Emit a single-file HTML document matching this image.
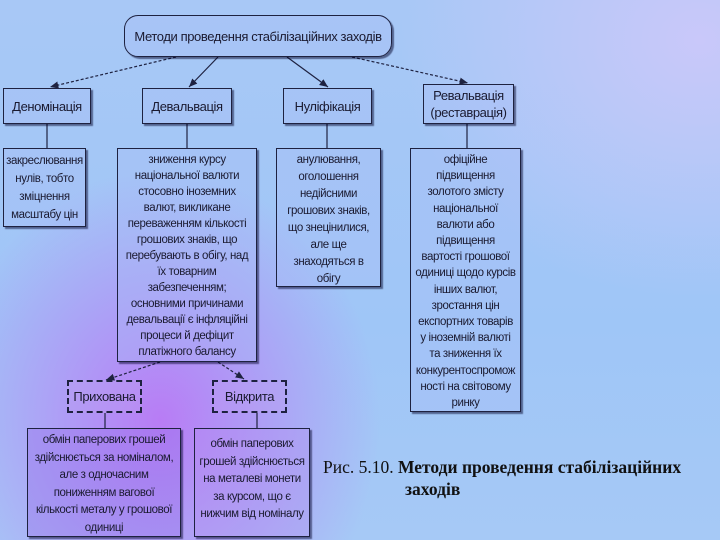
<!DOCTYPE html>
<html><head><meta charset="utf-8"><style>
body{margin:0;width:720px;height:540px;overflow:hidden;position:relative;font-family:"Liberation Sans",sans-serif;
background:
radial-gradient(ellipse 220px 250px at 160px 420px,rgba(185,120,245,0.95),rgba(185,120,245,0) 100%),
radial-gradient(ellipse 300px 260px at 700px 40px,rgba(205,200,250,0.9),rgba(205,200,250,0) 100%),
linear-gradient(180deg,#a8c8f6 0%,#9fc6f7 60%,#a6c9f6 100%);}
.b{position:absolute;box-sizing:border-box;border:1.5px solid #1e2240;color:#1a1a30;text-align:center;font-size:11.5px;letter-spacing:-0.4px;box-shadow:2px 2px 1px rgba(0,0,40,0.5);background:rgba(170,190,245,0.35);white-space:nowrap}
.h{font-size:13px;display:flex;align-items:center;justify-content:center;line-height:17px}
.d{border:2px dashed #1e2240;box-shadow:none;background:rgba(190,160,240,0.35)}
.cap{position:absolute;left:323px;top:456px;font-family:"Liberation Serif",serif;font-size:17.5px;color:#111;line-height:22px;white-space:nowrap}
</style></head><body>
<svg width="720" height="540" style="position:absolute;left:0;top:0">
<defs><marker id="a" markerWidth="8" markerHeight="8" refX="7" refY="4" orient="auto"><path d="M0,1 L7,4 L0,7Z" fill="#1e2240"/></marker></defs>
<g stroke="#1e2240" stroke-width="1.2" fill="none">
<line x1="176" y1="57" x2="50" y2="87" stroke-dasharray="3,2" marker-end="url(#a)"/>
<line x1="218" y1="57" x2="189" y2="87" marker-end="url(#a)"/>
<line x1="287" y1="57" x2="328" y2="87" marker-end="url(#a)"/>
<line x1="352" y1="57" x2="468" y2="83" stroke-dasharray="3,2" marker-end="url(#a)"/>
<line x1="47" y1="124" x2="47" y2="148"/>
<line x1="187" y1="124" x2="187" y2="148"/>
<line x1="327" y1="124" x2="327" y2="148"/>
<line x1="467" y1="124" x2="467" y2="148"/>
<line x1="160" y1="362" x2="106" y2="380" stroke-dasharray="3,2" marker-end="url(#a)"/>
<line x1="218" y1="362" x2="244" y2="379" stroke-dasharray="3,2" marker-end="url(#a)"/>
<line x1="105" y1="413" x2="105" y2="428"/>
<line x1="257" y1="413" x2="257" y2="428"/>
</g></svg>
<div class="b h" style="left:124px;top:15px;width:268px;height:42px;border-radius:14px;font-size:13px">Методи проведення стабілізаційних заходів</div>
<div class="b h" style="left:3px;top:88px;width:88px;height:36px">Деномінація</div>
<div class="b h" style="left:142px;top:88px;width:90px;height:36px">Девальвація</div>
<div class="b h" style="left:283px;top:88px;width:89px;height:36px">Нуліфікація</div>
<div class="b h" style="left:423px;top:84px;width:91px;height:40px">Ревальвація<br>(реставрація)</div>
<div class="b" style="left:3px;top:148px;width:83px;height:79px;line-height:18px;padding-top:3px">закреслювання<br>нулів, тобто<br>зміцнення<br>масштабу цін</div>
<div class="b" style="left:117px;top:148px;width:140px;height:214px;line-height:16px;padding:3px 0 0">зниження курсу<br>національної валюти<br>стосовно іноземних<br>валют, викликане<br>переваженням кількості<br>грошових знаків, що<br>перебувають в обігу, над<br>їх товарним<br>забезпеченням;<br>основними причинами<br>девальвації є інфляційні<br>процеси й дефіцит<br>платіжного балансу</div>
<div class="b" style="left:276px;top:148px;width:105px;height:139px;line-height:17px;padding:3px 0 0">анулювання,<br>оголошення<br>недійсними<br>грошових знаків,<br>що знецінилися,<br>але ще<br>знаходяться в<br>обігу</div>
<div class="b" style="left:410px;top:148px;width:111px;height:264px;line-height:16.2px;padding:3px 0 0">офіційне<br>підвищення<br>золотого змісту<br>національної<br>валюти або<br>підвищення<br>вартості грошової<br>одиниці щодо курсів<br>інших валют,<br>зростання цін<br>експортних товарів<br>у іноземній валюті<br>та зниження їх<br>конкурентоспромож<br>ності на світовому<br>ринку</div>
<div class="b h d" style="left:67px;top:380px;width:75px;height:33px">Прихована</div>
<div class="b h d" style="left:212px;top:380px;width:75px;height:33px">Відкрита</div>
<div class="b" style="left:27px;top:428px;width:154px;height:109px;line-height:17.5px;padding:3px 0 0;background:rgba(150,110,235,0.35)">обмін паперових грошей<br>здійснюється за номіналом,<br>але з одночасним<br>пониженням вагової<br>кількості металу у грошової<br>одиниці</div>
<div class="b" style="left:194px;top:428px;width:116px;height:109px;line-height:17.5px;padding:7px 0 0;background:rgba(180,140,240,0.3)">обмін паперових<br>грошей здійснюється<br>на металеві монети<br>за курсом, що є<br>нижчим від номіналу</div>
<div class="cap">Рис. 5.10. <b>Методи проведення стабілізаційних<br><span style="padding-left:82px">заходів</span></b></div>
</body></html>
